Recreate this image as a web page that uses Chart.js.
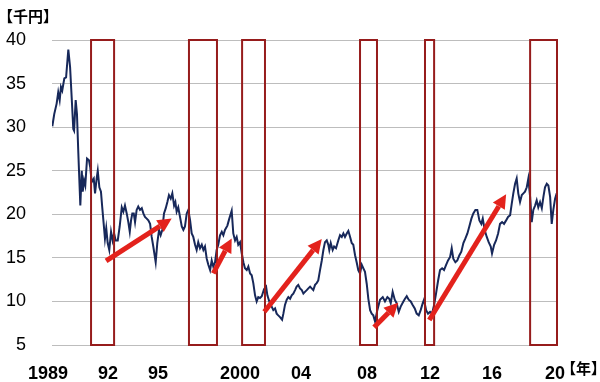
<!DOCTYPE html>
<html><head><meta charset="utf-8">
<script src="https://cdn.jsdelivr.net/npm/chart.js@4"></script>
<style>html,body{margin:0;padding:0;background:#fff}</style>
</head><body>
<canvas id="c" width="600" height="382"></canvas>
<script>
// time (decimal years) and price (千円)
const dates = [1989.02,1989.14,1989.29,1989.39,1989.48,1989.56,1989.64,1989.77,1989.88,1990.02,1990.13,1990.23,1990.33,1990.38,1990.48,1990.56,1990.64,1990.71,1990.77,1990.86,1990.92,1991.00,1991.08,1991.19,1991.31,1991.39,1991.48,1991.61,1991.69,1991.79,1991.86,1991.96,1992.06,1992.14,1992.23,1992.31,1992.39,1992.48,1992.58,1992.69,1992.79,1992.88,1992.98,1993.11,1993.23,1993.36,1993.46,1993.56,1993.67,1993.77,1993.86,1993.94,1994.02,1994.11,1994.19,1994.29,1994.39,1994.50,1994.61,1994.71,1994.81,1994.92,1995.02,1995.13,1995.23,1995.33,1995.48,1995.58,1995.69,1995.79,1995.89,1996.00,1996.11,1996.21,1996.31,1996.42,1996.52,1996.63,1996.71,1996.79,1996.89,1997.00,1997.11,1997.21,1997.31,1997.42,1997.52,1997.63,1997.73,1997.83,1997.94,1998.04,1998.14,1998.25,1998.36,1998.46,1998.56,1998.67,1998.77,1998.88,1998.98,1999.08,1999.19,1999.29,1999.39,1999.50,1999.61,1999.71,1999.81,1999.96,2000.08,2000.23,2000.33,2000.44,2000.54,2000.64,2000.75,2000.86,2000.96,2001.06,2001.17,2001.27,2001.38,2001.48,2001.58,2001.69,2001.79,2001.89,2002.00,2002.11,2002.25,2002.38,2002.46,2002.58,2002.73,2002.83,2002.94,2003.04,2003.14,2003.25,2003.38,2003.46,2003.56,2003.67,2003.77,2003.88,2003.98,2004.08,2004.19,2004.29,2004.39,2004.50,2004.61,2004.71,2004.81,2004.92,2005.02,2005.13,2005.23,2005.33,2005.44,2005.54,2005.64,2005.75,2005.86,2005.96,2006.06,2006.17,2006.27,2006.33,2006.42,2006.54,2006.63,2006.75,2006.89,2007.00,2007.11,2007.21,2007.31,2007.42,2007.52,2007.63,2007.73,2007.83,2007.94,2008.04,2008.14,2008.25,2008.36,2008.46,2008.56,2008.67,2008.77,2008.88,2008.98,2009.08,2009.19,2009.33,2009.50,2009.67,2009.81,2009.96,2010.08,2010.17,2010.29,2010.42,2010.54,2010.67,2010.79,2010.96,2011.06,2011.17,2011.29,2011.42,2011.54,2011.67,2011.79,2011.92,2012.04,2012.17,2012.25,2012.38,2012.50,2012.63,2012.75,2012.88,2013.00,2013.13,2013.25,2013.38,2013.50,2013.63,2013.75,2013.88,2013.98,2014.08,2014.21,2014.33,2014.46,2014.58,2014.71,2014.83,2014.96,2015.08,2015.21,2015.33,2015.46,2015.58,2015.71,2015.83,2015.92,2016.04,2016.17,2016.29,2016.42,2016.50,2016.63,2016.75,2016.88,2017.00,2017.13,2017.25,2017.38,2017.50,2017.63,2017.73,2017.83,2017.94,2018.04,2018.14,2018.25,2018.36,2018.46,2018.56,2018.67,2018.77,2018.88,2018.98,2019.08,2019.19,2019.29,2019.39,2019.50,2019.61,2019.71,2019.81,2019.92,2020.02,2020.13,2020.23,2020.33,2020.44,2020.54];
const prices = [30.1,31.5,32.7,34.0,33.1,34.6,34.2,35.6,35.7,38.9,36.9,33.4,29.8,29.6,33.1,31.5,27.3,23.9,21.0,25.0,22.6,23.9,23.3,26.4,26.2,25.4,23.7,24.1,22.4,24.1,25.0,23.1,22.6,20.8,18.9,17.2,18.4,16.7,15.9,18.0,17.0,17.8,17.0,17.0,18.6,20.8,20.3,21.0,20.1,19.1,18.0,19.3,20.1,20.1,19.1,20.5,20.9,20.5,20.7,20.1,19.7,19.5,19.3,18.9,17.4,16.3,14.5,16.7,18.2,17.6,18.2,20.1,20.7,21.4,22.2,21.8,22.4,21.0,21.4,20.3,20.8,19.7,18.6,18.2,18.6,20.1,20.5,19.3,17.8,17.4,16.5,15.9,16.8,16.1,16.5,15.9,16.3,14.9,14.2,13.6,14.7,14.0,14.5,15.9,16.5,17.6,18.0,17.6,18.2,18.7,19.5,20.4,17.8,17.0,17.4,16.5,16.8,15.5,14.5,13.8,13.6,14.0,13.2,13.0,12.1,10.7,10.0,10.5,10.4,10.6,11.4,11.7,10.7,10.0,9.4,9.0,9.2,8.6,8.4,8.2,7.9,8.6,9.6,10.2,10.5,10.3,10.7,10.9,11.3,11.7,11.9,11.5,11.3,10.9,11.1,11.3,11.5,11.7,11.5,11.3,11.9,12.1,12.4,13.6,14.7,15.9,16.8,17.0,16.5,15.9,16.7,15.9,16.3,16.1,17.0,17.6,17.4,17.8,17.4,17.8,18.1,17.4,16.7,16.5,15.3,14.5,13.6,13.2,14.2,13.8,13.4,12.0,10.3,9.0,8.6,8.4,7.7,9.0,10.2,10.5,10.0,10.5,10.3,9.8,11.1,10.2,9.8,8.8,9.4,10.0,10.3,10.6,10.2,10.0,9.6,9.2,8.6,8.4,9.0,9.8,10.2,9.0,8.6,8.8,8.6,9.6,10.9,12.4,13.6,13.8,13.6,14.2,14.7,15.1,16.1,14.9,14.5,14.7,15.3,15.7,16.7,17.2,17.8,18.6,19.5,20.1,20.5,20.5,19.3,18.9,19.5,18.2,17.4,16.8,16.3,15.5,16.5,17.0,17.8,18.9,19.1,18.9,19.3,19.7,19.9,21.2,22.4,23.5,24.1,22.4,21.4,22.2,22.4,22.6,23.1,24.1,22.0,19.1,20.5,21.0,21.6,20.8,21.4,20.7,22.0,23.1,23.5,23.3,22.0,18.9,20.5,21.8,22.4];

const xTickValues = [1988.75,1992.5,1995.63,2000.75,2004.56,2008.69,2012.63,2016.5,2020.44];
const xTickLabels = ['1989','92','95','2000','04','08','12','16','20'];
const yTickValues = [5,10,15,20,25,30,35,40];

// highlighted periods (boxes)
const boxStarts = [1991.44,1997.56,2000.88,2008.25,2012.31,2018.88];
const boxEnds   = [1992.88,1999.31,2002.31,2009.31,2012.88,2020.56];

// trend arrows (tail -> head), in years / 千円
const arrowFromX = [1992.38,1999.08,2002.27,2009.13,2012.58];
const arrowFromY = [14.66,13.22,8.82,7.03,7.87];
const arrowToX   = [1996.48,2000.23,2005.86,2010.64,2017.38];
const arrowToY   = [19.52,17.23,17.15,9.85,22.30];

const overlay = {
  id: 'overlay',
  afterDatasetsDraw(chart) {
    const {ctx, scales: {x, y}} = chart;
    ctx.save();
    // boxes
    ctx.strokeStyle = '#961c1c';
    ctx.lineWidth = 2;
    for (let i = 0; i < boxStarts.length; i++) {
      const x0 = x.getPixelForValue(boxStarts[i]), x1 = x.getPixelForValue(boxEnds[i]);
      const y0 = y.getPixelForValue(40), y1 = y.getPixelForValue(5);
      ctx.strokeRect(x0, y0, x1 - x0, y1 - y0);
    }
    // arrows
    ctx.strokeStyle = '#e3221c';
    ctx.fillStyle = '#e3221c';
    for (let i = 0; i < arrowFromX.length; i++) {
      const ax = x.getPixelForValue(arrowFromX[i]), ay = y.getPixelForValue(arrowFromY[i]);
      const bx = x.getPixelForValue(arrowToX[i]), by = y.getPixelForValue(arrowToY[i]);
      const ang = Math.atan2(by - ay, bx - ax);
      const hl = 14, hw = 7;
      const cx = bx - hl * Math.cos(ang), cy = by - hl * Math.sin(ang);
      ctx.lineWidth = 5;
      ctx.lineCap = 'butt';
      ctx.beginPath(); ctx.moveTo(ax, ay); ctx.lineTo(cx, cy); ctx.stroke();
      ctx.beginPath();
      ctx.moveTo(bx, by);
      ctx.lineTo(cx + hw * Math.sin(ang), cy - hw * Math.cos(ang));
      ctx.lineTo(cx - hw * Math.sin(ang), cy + hw * Math.cos(ang));
      ctx.closePath(); ctx.fill();
    }
    ctx.restore();
  },
  afterDraw(chart) {
    const ctx = chart.ctx;
    ctx.save();
    ctx.fillStyle = '#000';
    ctx.font = 'bold 15px "Noto Sans CJK JP", sans-serif';
    ctx.textBaseline = 'middle';
    ctx.textAlign = 'left';
    ctx.fillText('【千円】', -2, 16);
    ctx.fillText('【年】', 561, 368);
    ctx.restore();
  }
};

new Chart(document.getElementById('c'), {
  type: 'line',
  data: {
    datasets: [{
      data: dates.map((d, i) => ({x: d, y: prices[i]})),
      borderColor: '#17285a',
      borderWidth: 2,
      pointRadius: 0,
      tension: 0
    }]
  },
  options: {
    responsive: false,
    animation: false,
    layout: {padding: {top: 40, right: 43, left: 0, bottom: 0}},
    plugins: {legend: {display: false}, tooltip: {enabled: false}},
    scales: {
      x: {
        type: 'linear', min: 1989, max: 2020.56,
        afterBuildTicks: s => { s.ticks = xTickValues.map(v => ({value: v})); },
        afterFit: s => { s.height = 37; },
        ticks: {
          autoSkip: false, maxRotation: 0, padding: 18,
          color: '#000', font: {family: '"Liberation Sans", Arial, sans-serif', size: 18, weight: 'bold'},
          callback: (v, i) => xTickLabels[i]
        },
        grid: {display: false, drawTicks: false},
        border: {display: false}
      },
      y: {
        min: 5, max: 40,
        afterBuildTicks: s => { s.ticks = yTickValues.map(v => ({value: v})); },
        afterFit: s => { s.width = 52; },
        ticks: {
          padding: 26, color: '#000',
          font: {family: '"Liberation Sans", Arial, sans-serif', size: 18}
        },
        grid: {color: '#bdbdbd', lineWidth: 1, drawTicks: false},
        border: {display: false}
      }
    }
  },
  plugins: [overlay]
});
</script>
</body></html>
